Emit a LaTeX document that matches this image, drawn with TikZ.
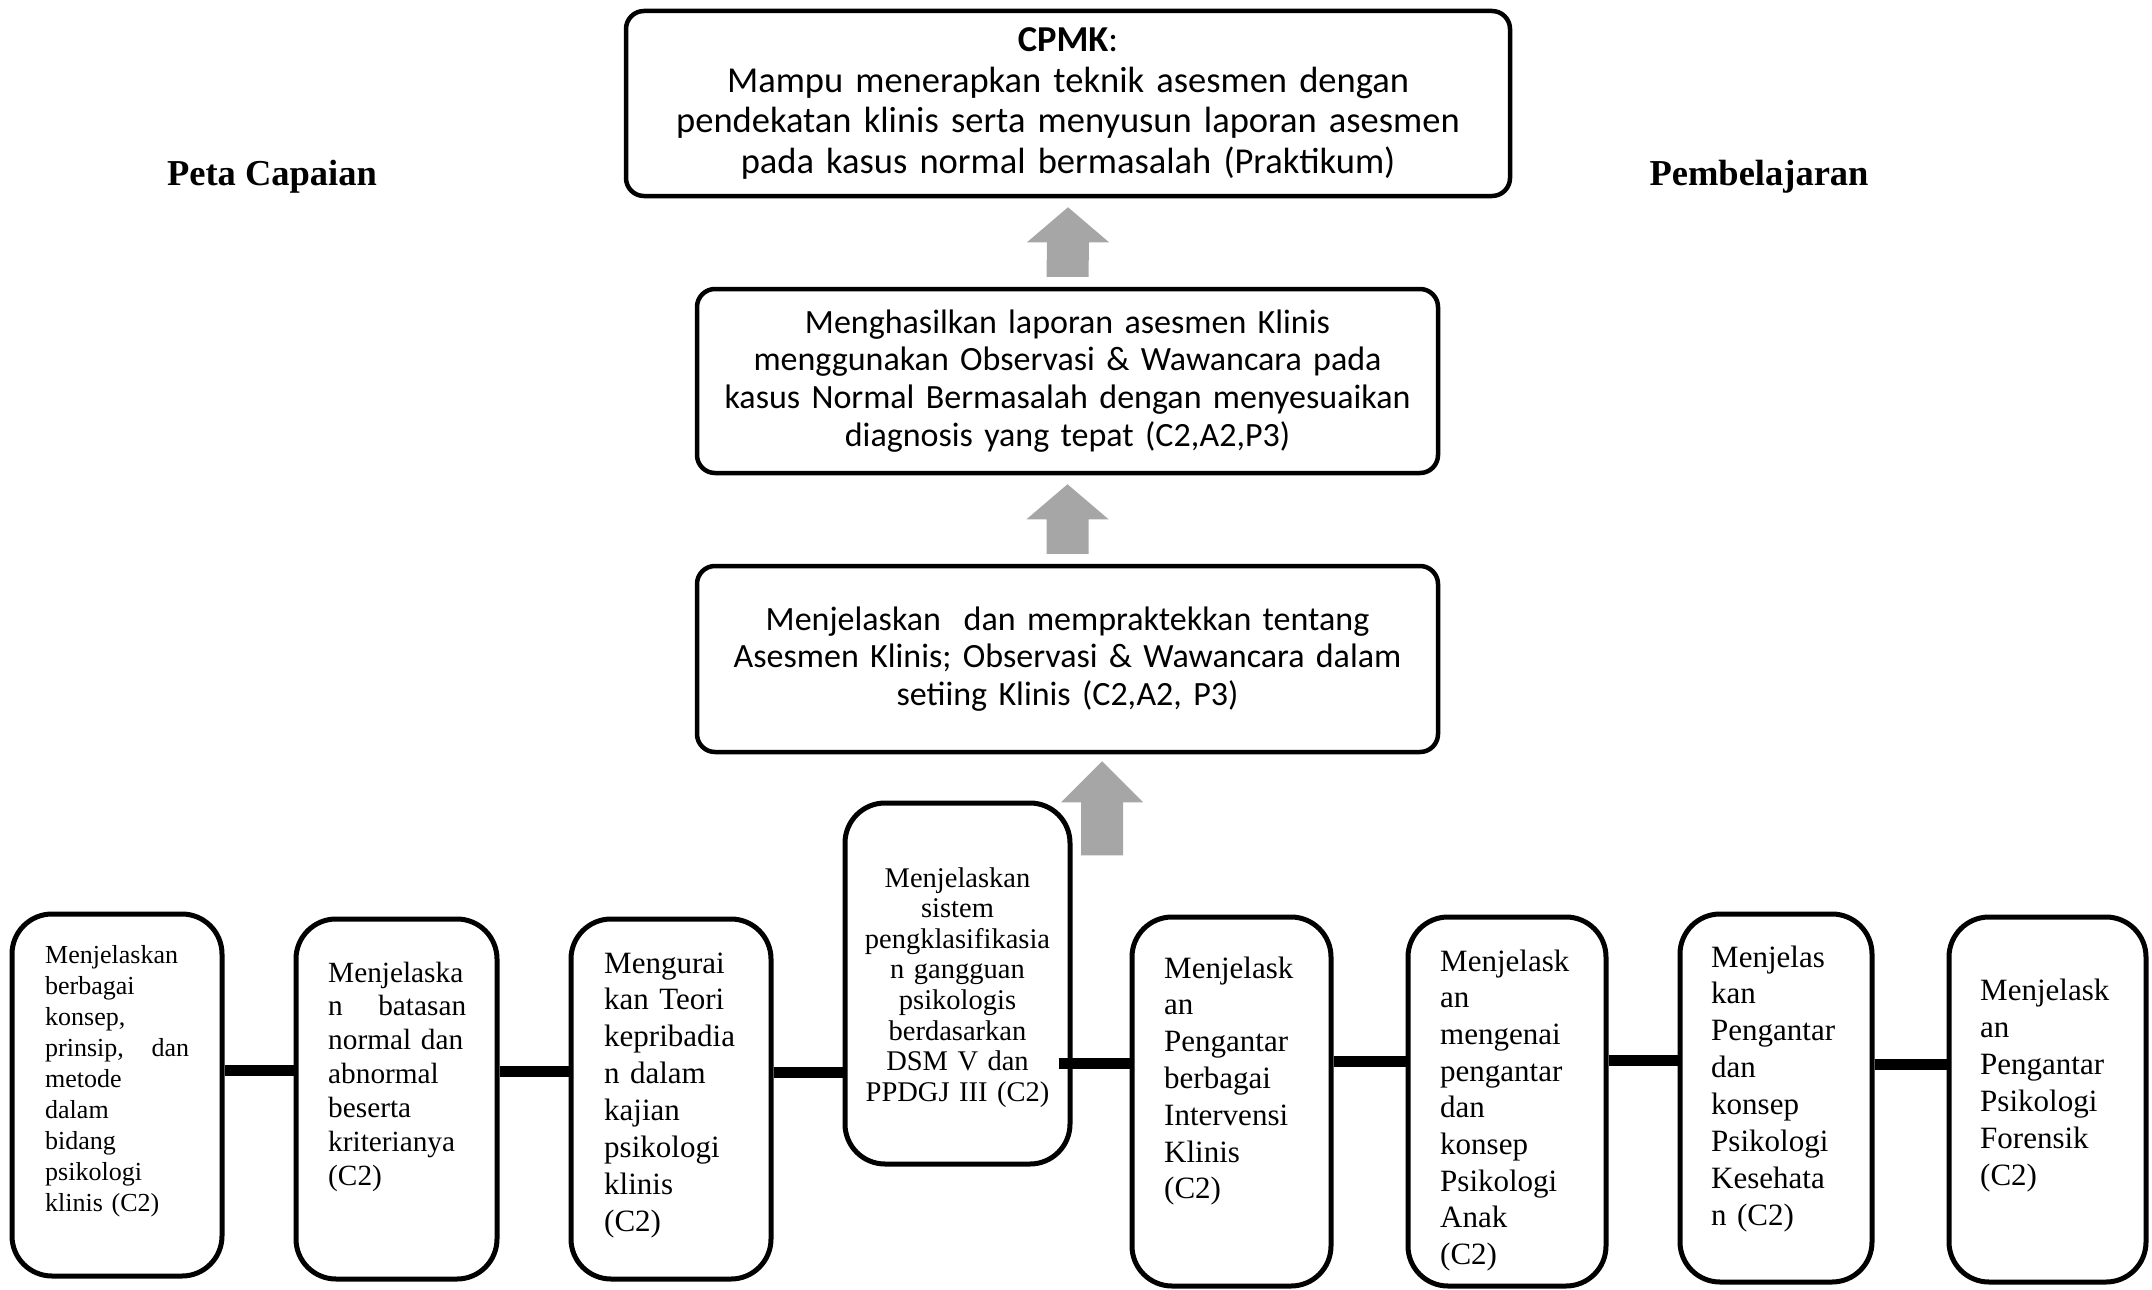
\documentclass[tikz,border=0pt]{standalone}
\usepackage{fontspec}
\setmainfont{Liberation Serif}
\newfontfamily\calibrifont{Carlito}
\usetikzlibrary{calc}
\definecolor{arrowgray}{RGB}{166,166,166}
\begin{document}
\begin{tikzpicture}[x=1pt,y=-1pt,
  topbox/.style={draw, line width=4.5pt, rounded corners=18pt, align=center, inner sep=0pt,
    font=\calibrifont\fontsize{36.5}{40.8}\selectfont},
  midbox/.style={topbox, font=\calibrifont\fontsize{34}{37.8}\selectfont},
  lowbox/.style={draw, line width=5pt, rounded corners=40pt, inner sep=0pt},
  lowtext/.style={inner sep=0pt, anchor=base west, align=left, text width=250pt},
  midtext/.style={inner sep=0pt, anchor=base, align=center, text width=230pt},
  conn/.style={line width=11pt},
  blockarrow/.style={fill=arrowgray},
  sidetitle/.style={anchor=base, font=\bfseries\fontsize{36.5}{40}\selectfont}
]
\useasboundingbox (0,0) rectangle (2152,1290);

% side titles
\node[sidetitle] (peta) at (272,185) {Peta Capaian};
\node[sidetitle] (pemb) at (1759,185) {Pembelajaran};

% upper boxes
\node[topbox, minimum width=884pt, minimum height=185pt, text width=860pt] (t1) at (1068,103.5)
 {\textbf{CPMK}:\\Mampu menerapkan teknik asesmen dengan\\pendekatan klinis serta menyusun laporan asesmen\\pada kasus normal bermasalah (Praktikum)};
\node[midbox, minimum width=741pt, minimum height=184pt, text width=720pt] (t2) at (1067.5,381)
 {Menghasilkan laporan asesmen Klinis\\menggunakan Observasi \& Wawancara pada\\kasus Normal Bermasalah dengan menyesuaikan\\diagnosis yang tepat (C2,A2,P3)};
\node[midbox, minimum width=741pt, minimum height=186pt, text width=720pt] (t3) at (1067.5,659)
 {Menjelaskan\ \ dan mempraktekkan tentang\\Asesmen Klinis; Observasi \& Wawancara dalam\\setiing Klinis (C2,A2, P3)};

% block arrows
\fill[blockarrow] ($(t1.south)+(0,9)$) -- ($(t1.south)+(41,44)$) -- ($(t1.south)+(21,44)$)
  -- ($(t2.north)+(21,-10)$) -- ($(t2.north)+(-21,-10)$) -- ($(t1.south)+(-21,44)$)
  -- ($(t1.south)+(-41,44)$) -- cycle;
\fill[blockarrow] ($(t2.south)+(0,9)$) -- ($(t2.south)+(41,44)$) -- ($(t2.south)+(21,44)$)
  -- ($(t3.north)+(21,-10)$) -- ($(t3.north)+(-21,-10)$) -- ($(t2.south)+(-21,44)$)
  -- ($(t2.south)+(-41,44)$) -- cycle;
\fill[blockarrow] ($(t3.south)+(34.5,7)$) -- ($(t3.south)+(75.5,48)$) -- ($(t3.south)+(55.5,48)$)
  -- ($(t3.south)+(55.5,101)$) -- ($(t3.south)+(13.5,101)$) -- ($(t3.south)+(13.5,48)$)
  -- ($(t3.south)+(-6.5,48)$) -- cycle;

% lower boxes
\node[lowbox, minimum width=210pt, minimum height=362pt] (b1) at (117,1095) {};
\node[lowbox, minimum width=201pt, minimum height=360pt] (b2) at (396.5,1099) {};
\node[lowbox, minimum width=200pt, minimum height=360pt] (b3) at (671,1099) {};
\node[lowbox, minimum width=225pt, minimum height=361pt] (b4) at (957.5,983.5) {};
\node[lowbox, minimum width=199pt, minimum height=369pt] (b5) at (1231.5,1101.5) {};
\node[lowbox, minimum width=198pt, minimum height=369pt] (b6) at (1507,1101.5) {};
\node[lowbox, minimum width=192pt, minimum height=368pt] (b7) at (1776,1098) {};
\node[lowbox, minimum width=197pt, minimum height=365pt] (b8) at (2047.5,1099.5) {};

% lower texts
\node[lowtext, text width=144pt, font=\fontsize{26}{31}\selectfont] (b1t) at (45,963)
 {Menjelaskan\\berbagai\\konsep,\\prinsip,\hfill dan\\metode\\dalam\\bidang\\psikologi\\klinis (C2)};
\node[lowtext, text width=138pt, font=\fontsize{29.3}{33.9}\selectfont] (b2t) at (328,982)
 {Menjelaska\\n\hfill batasan\\normal dan\\abnormal\\beserta\\kriterianya\\(C2)};
\node[lowtext, font=\fontsize{31}{36.9}\selectfont] (b3t) at (604,973)
 {Mengurai\\kan Teori\\kepribadia\\n dalam\\kajian\\psikologi\\klinis\\(C2)};
\node[midtext, font=\fontsize{28.5}{30.6}\selectfont] (b4t) at (957.5,887)
 {Menjelaskan\\sistem\\pengklasifikasia\\n gangguan\\psikologis\\berdasarkan\\DSM V dan\\PPDGJ III (C2)};
\node[lowtext, font=\fontsize{31}{36.8}\selectfont] (b5t) at (1164,978)
 {Menjelask\\an\\Pengantar\\berbagai\\Intervensi\\Klinis\\(C2)};
\node[lowtext, font=\fontsize{31}{36.7}\selectfont] (b6t) at (1440,971)
 {Menjelask\\an\\mengenai\\pengantar\\dan\\konsep\\Psikologi\\Anak\\(C2)};
\node[lowtext, font=\fontsize{31}{36.9}\selectfont] (b7t) at (1711,967)
 {Menjelas\\kan\\Pengantar\\dan\\konsep\\Psikologi\\Kesehata\\n (C2)};
\node[lowtext, font=\fontsize{31}{37}\selectfont] (b8t) at (1980,1000)
 {Menjelask\\an\\Pengantar\\Psikologi\\Forensik\\(C2)};

% connector levels
\coordinate (c12) at (0,1070);
\coordinate (c23) at (0,1071);
\coordinate (c34) at (0,1072);
\coordinate (c45) at (0,1063);
\coordinate (c56) at (0,1061);
\coordinate (c67) at (0,1060);
\coordinate (c78) at (0,1064);

\draw[conn] (b1.east |- c12) -- (b2.west |- c12);
\draw[conn] (b2.east |- c23) -- (b3.west |- c23);
\draw[conn] (b3.east |- c34) -- (b4.west |- c34);
\draw[conn] (b4.east |- c45) ++(-14,0) -- (b5.west |- c45);
\draw[conn] (b5.east |- c56) -- (b6.west |- c56);
\draw[conn] (b6.east |- c67) -- (b7.west |- c67);
\draw[conn] (b7.east |- c78) -- (b8.west |- c78);
\end{tikzpicture}
\end{document}
